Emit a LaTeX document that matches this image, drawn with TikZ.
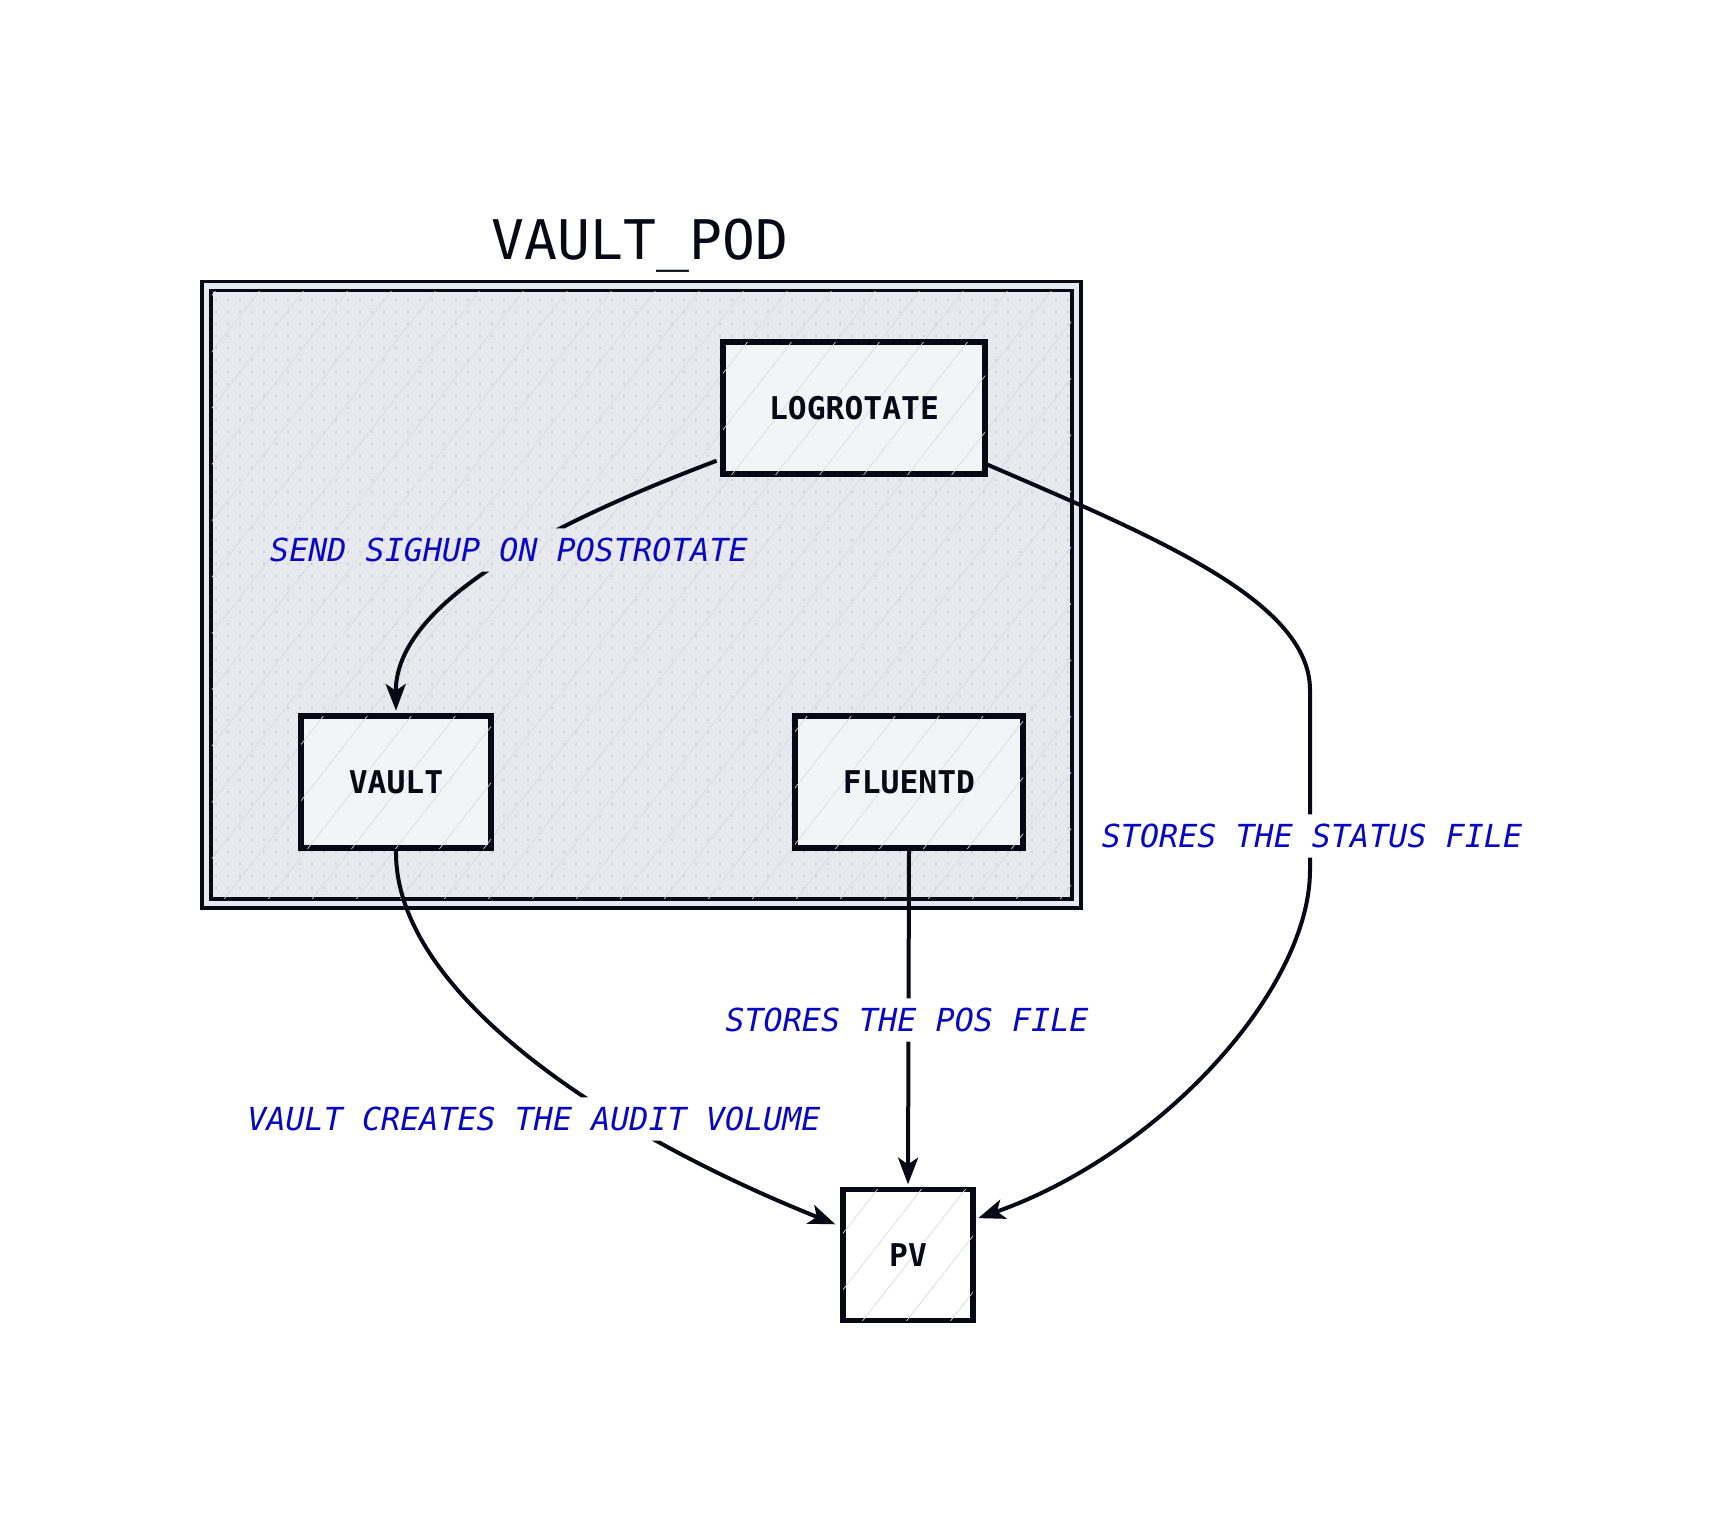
\documentclass[tikz,border=0pt]{standalone}
\usepackage{fontspec}
\usetikzlibrary{arrows.meta,patterns.meta,calc}
\newfontfamily\dvmono{DejaVu Sans Mono}
\definecolor{ink}{RGB}{8,9,20}
\definecolor{podbg}{RGB}{232,233,239}
\definecolor{boxbg}{RGB}{243,244,248}
\definecolor{dotc}{RGB}{200,202,211}
\definecolor{hatc}{RGB}{216,218,225}
\definecolor{lblue}{RGB}{8,8,196}
\begin{document}
\begin{tikzpicture}[x=0.75pt,y=-0.75pt,
  box/.style={draw=ink, line width=4pt, fill=boxbg, minimum height=99pt, inner sep=0pt,
    font=\dvmono\bfseries\fontsize{23.5}{28}\selectfont, text=ink,
    postaction={pattern={Lines[angle=52,distance=26pt,line width=0.5pt]}, pattern color=hatc}},
  elabel/.style={font=\dvmono\itshape\fontsize{23.8}{28}\selectfont, text=lblue, inner sep=7pt},
  conn/.style={draw=ink, line width=3pt, -{Stealth[length=20pt,width=15pt,inset=5pt]}},
]
\fill[white] (0,0) rectangle (1724,1524);
\useasboundingbox (0,0) rectangle (1724,1524);

% pod container
\node[draw=ink, line width=2.6pt, double=podbg, double distance=4.2pt, fill=podbg,
      minimum width=652.5pt, minimum height=463pt, inner sep=0pt] (pod) at (641.5,594.75) {};
\fill[pattern={Dots[distance=9pt,radius=0.8pt]}, pattern color=dotc]
  ($(pod.north west)+(7,7)$) rectangle ($(pod.south east)+(-7,-7)$);
\fill[pattern={Lines[angle=52,distance=26pt,line width=0.5pt]}, pattern color=hatc]
  ($(pod.north west)+(7,7)$) rectangle ($(pod.south east)+(-7,-7)$);

\node[anchor=base, font=\dvmono\fontsize{41}{48}\selectfont, text=ink] (title) at (640,259) {VAULT\_POD};

% nodes
\node[box, minimum width=196.5pt] (logrotate) at (854,408) {LOGROTATE};
\node[box, minimum width=142.5pt] (vault) at (396,782) {VAULT};
\node[box, minimum width=171pt] (fluentd) at (909,782) {FLUENTD};
\node[box, fill=white, minimum width=97.5pt, minimum height=98pt] (pv) at (908,1255) {PV};

% labels
\node[elabel] (lsend) at (509,550) {SEND SIGHUP ON POSTROTATE};
\node[elabel] (lstatus) at (1312,836) {STORES THE STATUS FILE};
\node[elabel] (lpos) at (907,1020) {STORES THE POS FILE};
\node[elabel] (laudit) at (534,1119) {VAULT CREATES THE AUDIT VOLUME};

\coordinate (b1) at (1310,690);
\coordinate (b2) at (1310,870);

% connectors
\begin{scope}
\clip (-10,-10) rectangle (1734,1534)
  (lsend.south west) rectangle (lsend.north east)
  (lstatus.south west) rectangle (lstatus.north east)
  (lpos.south west) rectangle (lpos.north east)
  (laudit.south west) rectangle (laudit.north east);
\draw[conn, shorten <=3pt, shorten >=2pt] (logrotate.201) .. controls (560,520) and (395,600) .. (vault.north);
\draw[conn, shorten >=2pt] (logrotate.-23) .. controls (1150,535) and (1310,600) .. (b1) -- (b2)
   .. controls (1310,990) and (1160,1154) .. (pv.28);
\draw[conn, shorten >=2pt] (fluentd.south) -- (pv.north);
\draw[conn, shorten >=4pt] (vault.south) .. controls (394,990) and (600,1130) .. (pv.157);
\end{scope}
\end{tikzpicture}
\end{document}
